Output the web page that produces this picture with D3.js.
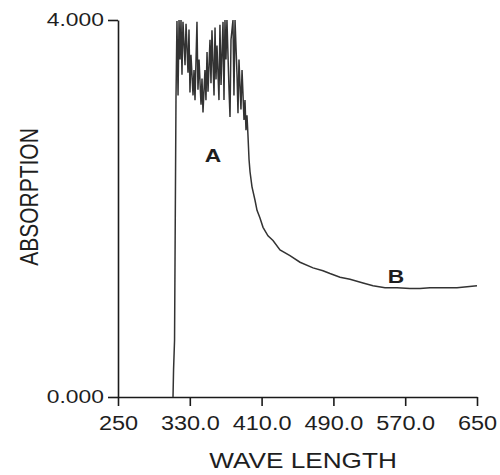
<!DOCTYPE html>
<html>
<head>
<meta charset="utf-8">
<script src="https://cdn.jsdelivr.net/npm/d3@7"></script>
<style>
  body { margin: 0; background: #fff; }
  text { font-family: "Liberation Sans", Arial, sans-serif; fill: #1e1e1e; }
</style>
</head>
<body>
<div id="canvas"></div>
<script>
// wave length (nm) and absorption
var wavelength = [311.3, 311.9, 313.0, 314.6, 315.7, 316.9, 318.0, 319.1, 320.2, 321.3, 322.4, 324.7, 325.8,
    328.0, 329.1, 330.2, 331.3, 333.6, 334.7, 335.8, 338.0, 339.1, 340.3, 342.5, 343.6, 344.7, 346.9, 348.0,
    349.2, 350.3, 352.5, 353.6, 354.7, 357.0, 358.1, 359.2, 360.3, 362.5, 363.6, 364.8, 367.0, 368.1, 369.2,
    370.3, 371.4, 373.7, 374.8, 375.9, 378.1, 379.2, 380.4, 382.6, 383.7, 384.8, 387.0, 388.2, 390.4, 391.5,
    392.6, 393.7, 394.8, 396.0, 397.1, 399.3, 402.6, 404.9, 408.2, 411.6, 417.1, 422.7, 430.5, 441.6, 452.8,
    467.3, 478.4, 486.2, 497.4, 508.5, 523.0, 534.1, 547.5, 560.9, 575.3, 586.5, 597.6, 614.3, 627.7, 638.9, 650.0]
var absorption = [0.00, 0.29, 0.60, 3.15, 3.99, 3.20, 4.00, 3.58, 4.00, 3.42, 3.98, 3.52, 3.96,
    3.44, 3.90, 3.23, 3.63, 3.20, 3.47, 3.15, 3.98, 3.26, 3.58, 3.10, 3.38, 3.02, 3.47, 3.15,
    3.66, 3.24, 3.79, 3.33, 3.89, 3.20, 3.92, 3.37, 3.73, 3.15, 3.95, 3.31, 3.98, 3.15, 4.00,
    3.58, 4.00, 3.26, 2.97, 3.79, 4.00, 3.20, 4.00, 3.42, 3.01, 3.58, 3.05, 3.47, 2.94, 3.15,
    2.83, 2.99, 2.78, 2.52, 2.39, 2.23, 2.09, 1.98, 1.90, 1.80, 1.71, 1.66, 1.56, 1.50, 1.43,
    1.37, 1.34, 1.31, 1.27, 1.25, 1.21, 1.18, 1.16, 1.16, 1.15, 1.15, 1.16, 1.16, 1.16, 1.17, 1.18]

var x_ticks = [250, 330, 410, 490, 570, 650]
var x_tick_labels = ['250', '330.0', '410.0', '490.0', '570.0', '650']
var y_ticks = [0, 4]
var y_tick_labels = ['0.000', '4.000']

var width = 500, height = 475

var svg = d3.select('#canvas')
    .append('svg')
    .attr('width', width)
    .attr('height', height)

var x = d3.scaleLinear().domain([250, 650]).range([118, 477])
var y = d3.scaleLinear().domain([0, 4]).range([397, 20])

var xAxis = svg.append('g')
    .attr('transform', 'translate(0,' + y(0) + ')')
    .call(d3.axisBottom(x)
        .tickValues(x_ticks)
        .tickFormat(function(d, i) { return x_tick_labels[i] })
        .tickSize(9)
        .tickSizeOuter(0)
        .tickPadding(9))
xAxis.selectAll('text')
    .attr('font-size', 21)
    .attr('font-family', 'Liberation Sans')
    .attr('fill', '#1e1e1e')
    .attr('transform', 'scale(1.12,1)')

var yAxis = svg.append('g')
    .attr('transform', 'translate(' + x(250) + ',0)')
    .call(d3.axisLeft(y)
        .tickValues(y_ticks)
        .tickFormat(function(d, i) { return y_tick_labels[i] })
        .tickSize(10)
        .tickSizeOuter(0)
        .tickPadding(4))
yAxis.selectAll('text')
    .attr('font-size', 18)
    .attr('font-family', 'Liberation Sans')
    .attr('fill', '#1e1e1e')
    .attr('x', -14 / 1.27)
    .attr('transform', 'scale(1.27,1)')

svg.selectAll('.domain, .tick line').attr('stroke', '#1a1a1a').attr('stroke-width', 1.6)

var line = d3.line()
    .x(function(d, i) { return x(wavelength[i]) })
    .y(function(d) { return y(d) })

svg.append('path')
    .datum(absorption)
    .attr('d', line)
    .attr('fill', 'none')
    .attr('stroke', '#333')
    .attr('stroke-width', 1.5)

// A / B labels
svg.append('text')
    .attr('transform', 'translate(213,162) scale(1.2,1)')
    .attr('text-anchor', 'middle')
    .attr('font-family', 'DejaVu Sans')
    .attr('font-size', 19).attr('font-weight', 'bold').text('A')
svg.append('text')
    .attr('transform', 'translate(396,283) scale(1.2,1)')
    .attr('text-anchor', 'middle')
    .attr('font-family', 'DejaVu Sans')
    .attr('font-size', 19).attr('font-weight', 'bold').text('B')

// axis titles
svg.append('text')
    .attr('transform', 'translate(303,468) scale(1.19,1)')
    .attr('text-anchor', 'middle')
    .attr('font-size', 22)
    .text('WAVE LENGTH')

svg.append('text')
    .attr('transform', 'translate(38,197) scale(1.25,1) rotate(-90)')
    .attr('text-anchor', 'middle')
    .attr('font-size', 21)
    .text('ABSORPTION')
</script>
</body>
</html>
